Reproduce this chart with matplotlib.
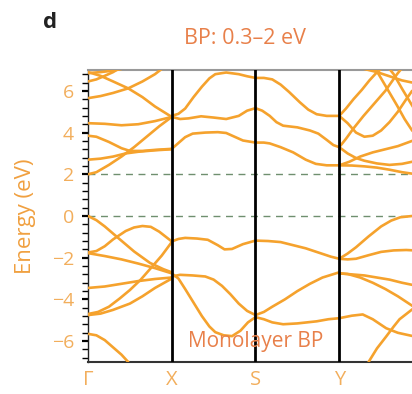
import matplotlib
matplotlib.use('Agg')
import matplotlib.pyplot as plt
from matplotlib.ticker import MultipleLocator

plt.rcParams['font.family'] = ['Open Sans', 'DejaVu Sans']

# k-path labels and positions
kpoint_labels = ['Γ', 'X', 'S', 'Y']
kpoint_pos = [0, 1, 2, 3]

# bands, (k, E in eV)
# Γ-X conduction
b1 = [(0, 2.0), (0.1, 2.1), (0.25, 2.45), (0.4, 2.85), (0.55, 3.3), (0.7, 3.8), (0.85, 4.3), (1.0, 4.75)]
b2 = [(0, 2.7), (0.15, 2.75), (0.3, 2.85), (0.45, 3.0), (0.6, 3.08), (0.8, 3.15), (1.0, 3.2)]
b3 = [(0, 3.85), (0.1, 3.8), (0.25, 3.55), (0.4, 3.25), (0.5, 3.12), (0.65, 3.12), (0.8, 3.17), (1.0, 3.22)]
b4 = [(0, 4.45), (0.2, 4.42), (0.4, 4.35), (0.6, 4.4), (0.8, 4.55), (1.0, 4.75)]
b5 = [(0, 5.65), (0.15, 5.75), (0.3, 5.9), (0.48, 6.12), (0.65, 6.45), (0.8, 6.8), (0.88, 7.05)]
b6 = [(0, 6.9), (0.15, 6.72), (0.3, 6.45), (0.48, 6.12), (0.65, 5.7), (0.8, 5.25), (0.92, 4.95), (1.0, 4.75)]
b7 = [(0, 6.45), (0.1, 6.55), (0.2, 6.72), (0.3, 6.9), (0.36, 7.05)]
b8 = [(0, 6.85), (0.15, 6.9), (0.3, 6.97), (0.4, 7.05)]

# X-S-Y conduction
c1 = [(1.0, 4.8), (1.08, 4.9), (1.16, 5.15), (1.26, 5.7), (1.36, 6.2), (1.45, 6.6), (1.52, 6.8),
      (1.65, 6.88), (1.8, 6.8), (1.9, 6.7), (2.0, 6.62), (2.1, 6.62), (2.2, 6.55), (2.3, 6.3),
      (2.4, 5.95), (2.53, 5.45), (2.63, 5.1), (2.73, 4.88), (2.85, 4.8), (3.0, 4.8)]
c2 = [(1.0, 4.75), (1.1, 4.65), (1.2, 4.68), (1.35, 4.78), (1.5, 4.72), (1.65, 4.65), (1.8, 4.8),
      (1.9, 5.05), (2.0, 5.17), (2.08, 5.05), (2.17, 4.8), (2.25, 4.5), (2.33, 4.33), (2.5, 4.25),
      (2.65, 4.1), (2.75, 3.95), (2.85, 3.65), (2.93, 3.4), (3.0, 3.3)]
c3 = [(1.0, 3.22), (1.08, 3.5), (1.16, 3.78), (1.25, 3.95), (1.4, 4.0), (1.55, 4.02), (1.65, 3.98),
      (1.75, 3.8), (1.85, 3.62), (2.0, 3.52), (2.1, 3.52), (2.17, 3.48), (2.3, 3.3), (2.45, 3.05),
      (2.6, 2.7), (2.72, 2.5), (2.85, 2.43), (3.0, 2.43)]

# Y-Γ conduction
d1 = [(3.0, 4.8), (3.08, 5.15), (3.17, 5.6), (3.27, 6.05), (3.36, 6.5), (3.44, 6.85), (3.5, 7.05)]
d2 = [(3.0, 3.3), (3.08, 3.7), (3.17, 4.2), (3.29, 4.8), (3.42, 5.4), (3.55, 6.0), (3.69, 6.8), (3.74, 7.05)]
d3 = [(3.0, 4.8), (3.1, 4.45), (3.2, 4.0), (3.3, 3.8), (3.4, 3.85), (3.5, 4.1), (3.6, 4.5), (3.7, 5.0),
      (3.8, 5.6), (3.87, 6.0), (4.0, 6.1)]
d4 = [(3.0, 3.3), (3.1, 3.0), (3.2, 2.78), (3.3, 2.65), (3.45, 2.52), (3.6, 2.45), (3.75, 2.5), (3.87, 2.6), (4.0, 2.7)]
d5 = [(3.0, 2.43), (3.15, 2.42), (3.3, 2.38), (3.45, 2.32), (3.6, 2.22), (3.75, 2.1), (3.87, 2.03), (4.0, 2.0)]
d6 = [(3.0, 2.43), (3.12, 2.6), (3.25, 2.85), (3.4, 3.05), (3.55, 3.2), (3.7, 3.35), (3.87, 3.6), (4.0, 3.85)]
d7 = [(3.42, 7.05), (3.47, 6.8), (3.58, 6.05), (3.69, 5.3), (3.78, 4.65), (3.87, 4.1), (4.0, 3.6)]
d8 = [(3.6, 7.05), (3.65, 6.8), (3.75, 6.1), (3.87, 5.3), (4.0, 4.45)]
d9 = [(3.3, 7.05), (3.45, 6.9), (3.6, 6.7), (3.75, 6.5), (3.87, 6.4), (4.0, 6.45)]

# Γ-X valence
v1 = [(0, 0.0), (0.1, -0.2), (0.2, -0.5), (0.38, -1.12), (0.55, -1.7), (0.74, -2.25), (0.9, -2.55), (1.0, -2.7)]
v2 = [(0, -1.75), (0.1, -1.68), (0.2, -1.45), (0.3, -1.12), (0.45, -0.72), (0.55, -0.55), (0.65, -0.48),
      (0.75, -0.52), (0.85, -0.75), (0.93, -1.0), (1.0, -1.22)]
v3 = [(0, -1.78), (0.2, -1.92), (0.4, -2.08), (0.6, -2.28), (0.8, -2.5), (1.0, -2.75)]
v4 = [(0, -3.45), (0.2, -3.38), (0.4, -3.25), (0.6, -3.12), (0.8, -3.02), (1.0, -2.95)]
v5 = [(0, -4.7), (0.12, -4.6), (0.25, -4.35), (0.38, -3.95), (0.5, -3.55), (0.63, -3.05), (0.75, -2.5),
      (0.88, -1.9), (1.0, -1.25)]
v6 = [(0, -4.75), (0.15, -4.68), (0.3, -4.5), (0.5, -4.2), (0.65, -3.85), (0.8, -3.45), (1.0, -3.0)]
v7 = [(0, -5.65), (0.1, -5.72), (0.2, -5.95), (0.3, -6.3), (0.4, -6.65), (0.48, -7.0)]

# X-S-Y valence
v8 = [(1.0, -1.22), (1.08, -1.1), (1.16, -1.05), (1.3, -1.08), (1.43, -1.14), (1.55, -1.4), (1.63, -1.6),
      (1.72, -1.58), (1.85, -1.35), (2.0, -1.18), (2.15, -1.2), (2.3, -1.25), (2.45, -1.4), (2.6, -1.55),
      (2.75, -1.75), (2.9, -1.95), (3.0, -2.05)]
v9 = [(1.0, -2.9), (1.1, -2.82), (1.25, -2.85), (1.4, -2.9), (1.5, -3.05), (1.6, -3.35), (1.7, -3.75),
      (1.8, -4.2), (1.9, -4.55), (2.0, -4.75), (2.1, -4.6), (2.2, -4.35), (2.35, -4.0), (2.5, -3.6),
      (2.65, -3.25), (2.8, -2.95), (3.0, -2.7)]
v10 = [(1.0, -2.75), (1.08, -3.0), (1.16, -3.5), (1.26, -4.15), (1.36, -4.8), (1.45, -5.3), (1.52, -5.57),
       (1.62, -5.72), (1.72, -5.76), (1.82, -5.5), (1.91, -5.1), (2.0, -4.85), (2.1, -4.95), (2.2, -5.1),
       (2.33, -5.19), (2.5, -5.15), (2.73, -5.05), (2.87, -4.95), (3.0, -4.9)]

# Y-Γ valence
w1 = [(3.0, -2.05), (3.1, -2.08), (3.2, -2.05), (3.35, -1.88), (3.5, -1.72), (3.65, -1.65), (3.8, -1.63),
      (3.9, -1.65), (4.0, -1.75)]
w2 = [(3.0, -2.05), (3.1, -1.8), (3.2, -1.5), (3.35, -0.98), (3.5, -0.5), (3.62, -0.22), (3.73, -0.06),
      (3.87, 0.0), (4.0, 0.0)]
w3 = [(3.0, -2.75), (3.15, -2.8), (3.3, -2.85), (3.45, -2.95), (3.6, -3.05), (3.75, -3.2), (3.87, -3.3), (4.0, -3.45)]
w4 = [(3.0, -2.75), (3.1, -2.78), (3.25, -2.95), (3.4, -3.2), (3.55, -3.5), (3.7, -3.85), (3.87, -4.3), (4.0, -4.7)]
w5 = [(3.0, -4.9), (3.15, -4.78), (3.28, -4.72), (3.4, -4.95), (3.56, -5.38), (3.7, -5.6), (3.87, -5.75), (4.0, -5.65)]
w6 = [(3.35, -7.0), (3.45, -6.35), (3.56, -5.78), (3.65, -5.3), (3.72, -4.95), (3.8, -4.7), (3.87, -4.48), (4.0, -4.2)]

bands = [b1, b2, b3, b4, b5, b6, b7, b8, c1, c2, c3, d1, d2, d3, d4, d5, d6, d7, d8, d9,
         v1, v2, v3, v4, v5, v6, v7, v8, v9, v10, w1, w2, w3, w4, w5, w6]

band_color = '#F5A22D'
label_color = '#F2AE5C'
red_orange = '#E8804A'

fig = plt.figure(figsize=(4.12, 3.94), dpi=100)
# right edge of the axes runs past the picture (Γ is cut off)
ax = fig.add_axes([88 / 412, 32 / 394, 335 / 412, 292 / 394])

for band in bands:
    k = [p[0] for p in band]
    e = [p[1] for p in band]
    ax.plot(k, e, color=band_color, lw=1.9, solid_capstyle='round', zorder=3)

for xp in kpoint_pos[1:]:
    ax.axvline(xp, color='black', lw=2, zorder=4)

for yl in [0, 2]:
    ax.axhline(yl, color='#6f8f6f', lw=1, ls=(0, (5, 4)), zorder=2)

ax.set_xlim(0, 4)
ax.set_ylim(-7, 7)

ax.set_xticks(kpoint_pos)
ax.set_xticklabels(kpoint_labels)
ax.tick_params(axis='x', length=0, pad=6, labelsize=14.5, labelcolor=label_color)

ax.yaxis.set_minor_locator(MultipleLocator(0.4))
ax.set_yticks([-6, -4, -2, 0, 2, 4, 6])
ax.set_yticklabels(['−6', '−4', '−2', '0', '2', '4', '6'])
ax.tick_params(axis='y', which='major', direction='out', length=4, width=1.6, pad=6,
               labelsize=14, labelcolor=label_color)
ax.tick_params(axis='y', which='minor', direction='out', length=4, width=1.0)
ax.set_ylabel('Energy (eV)', color='#F0A040', fontsize=16, va='center')
ax.yaxis.set_label_coords((25 - 88) / 335, 0.5)

ax.spines['top'].set_color('#999999')
ax.spines['top'].set_linewidth(1.5)
ax.spines['bottom'].set_color('#333333')
ax.spines['bottom'].set_linewidth(1.5)
ax.spines['left'].set_color('#222222')
ax.spines['left'].set_linewidth(1.0)
ax.spines['right'].set_visible(False)

ax.text(2.0, -6.0, 'Monolayer BP', color=red_orange, fontsize=15, ha='center', va='center', zorder=5)

fig.text(245 / 412, 1 - 38 / 394, 'BP: 0.3–2 eV', color=red_orange, fontsize=15.5, ha='center', va='center')
fig.text(50 / 412, 1 - 23 / 394, 'd', color='#222222', fontsize=16, fontweight='bold', ha='center', va='center')

fig.savefig('out.png', dpi=100)
